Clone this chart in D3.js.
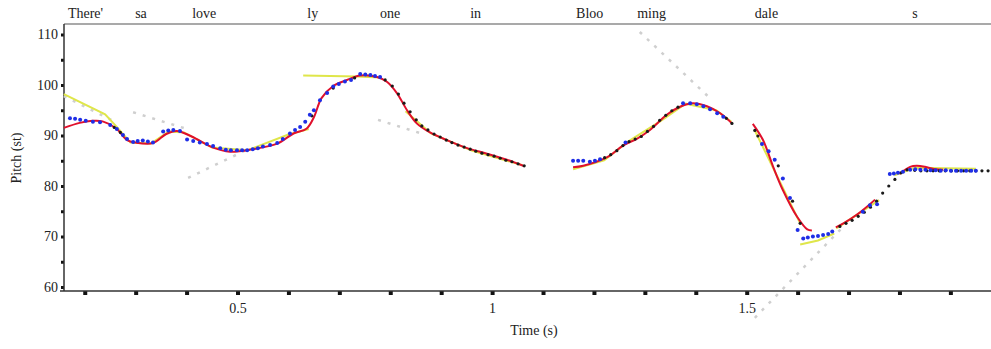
<!DOCTYPE html>
<html>
<head>
<meta charset="utf-8">
<script src="https://cdn.jsdelivr.net/npm/d3@7"></script>
<style>
  body { margin: 0; background: #fff; }
  svg text { font-family: "Liberation Serif", "DejaVu Serif", serif; fill: #222; }
</style>
</head>
<body>
<svg id="chart" width="991" height="349"></svg>
<script>
// words of the utterance, placed at their start time (s)
var words = ["There'", "sa", "love", "ly", "one", "in", "Bloo", "ming", "dale", "s"];
var wordStarts = [0.167, 0.299, 0.411, 0.637, 0.780, 0.957, 1.165, 1.285, 1.516, 1.825];

var xTicks = [0.2, 0.3, 0.4, 0.5, 0.6, 0.7, 0.8, 0.9, 1.0, 1.1, 1.2, 1.3, 1.4, 1.5, 1.6, 1.7, 1.8, 1.9];
var xLabels = [0.5, 1, 1.5];
var yTicks = [60, 65, 70, 75, 80, 85, 90, 95, 100, 105, 110];

// measured pitch (blue)
var bluePitch = [
  [0.171, 93.4], [0.181, 93.3], [0.191, 93.1], [0.202, 92.9], [0.216, 92.7], [0.230, 92.6],
  [0.250, 92.1], [0.263, 91.3], [0.275, 90.1], [0.283, 89.3], [0.295, 88.7], [0.304, 88.9],
  [0.314, 89.0], [0.324, 88.8], [0.334, 88.6], [0.354, 90.8], [0.364, 91.0], [0.374, 91.1],
  [0.387, 90.9], [0.401, 89.2], [0.413, 88.9], [0.426, 88.6], [0.440, 88.3], [0.452, 87.9],
  [0.466, 87.5], [0.477, 87.2], [0.487, 87.1], [0.499, 87.1], [0.509, 87.1], [0.519, 87.1],
  [0.530, 87.3], [0.540, 87.5], [0.550, 87.8], [0.564, 88.1], [0.578, 88.5], [0.589, 89.3],
  [0.603, 90.4], [0.613, 91.1], [0.623, 91.7], [0.633, 92.7], [0.642, 94.1], [0.650, 95.0],
  [0.662, 97.0], [0.676, 98.4], [0.688, 99.7], [0.699, 100.2], [0.711, 100.7], [0.723, 101.0],
  [0.741, 102.2], [0.751, 102.1], [0.761, 102.0], [0.770, 101.8], [0.780, 101.6],
  [1.159, 85.0], [1.169, 85.0], [1.179, 85.0], [1.192, 84.8], [1.202, 85.0], [1.212, 85.3],
  [1.262, 88.6], [1.375, 96.4], [1.389, 96.4], [1.402, 96.2], [1.415, 95.8], [1.428, 95.2],
  [1.442, 94.4], [1.454, 93.7],
  [1.530, 88.3], [1.543, 86.9], [1.555, 85.2], [1.571, 81.5], [1.585, 77.6], [1.600, 71.3],
  [1.611, 69.6], [1.620, 69.8], [1.630, 70.0], [1.640, 70.1], [1.650, 70.3], [1.660, 70.5],
  [1.668, 71.0], [1.728, 74.9], [1.742, 76.2], [1.756, 76.4], [1.781, 82.4], [1.789, 82.5],
  [1.797, 82.6], [1.807, 82.8], [1.821, 83.2], [1.831, 83.3], [1.841, 83.2], [1.851, 83.2],
  [1.861, 83.1], [1.871, 83.1], [1.881, 83.0], [1.891, 83.1], [1.901, 83.0], [1.911, 83.0],
  [1.921, 83.0], [1.931, 83.0], [1.941, 83.0], [1.950, 83.0]
];

// smoothed pitch (black)
var blackPitch = [
  [0.258, 91.6], [0.270, 90.6], [0.646, 93.9], [0.688, 99.4], [0.730, 101.4],
  [0.790, 101.0], [0.804, 99.8], [0.816, 98.2], [0.827, 96.4], [0.839, 94.7], [0.851, 93.1],
  [0.862, 91.9], [0.874, 91.1], [0.886, 90.3], [0.898, 89.7], [0.910, 89.1], [0.921, 88.6],
  [0.933, 88.1], [0.945, 87.7], [0.957, 87.3], [0.968, 86.9], [0.980, 86.5], [0.992, 86.2],
  [1.004, 85.9], [1.016, 85.5], [1.027, 85.1], [1.039, 84.8], [1.051, 84.4], [1.063, 84.0],
  [1.221, 85.6], [1.233, 86.2], [1.245, 87.0], [1.257, 88.0], [1.269, 88.8], [1.281, 89.3],
  [1.293, 89.8], [1.305, 90.8], [1.317, 91.8], [1.329, 93.0], [1.341, 94.0], [1.353, 94.9],
  [1.365, 95.6], [1.460, 93.4], [1.471, 92.4],
  [1.516, 91.0], [1.522, 89.9], [1.562, 84.0], [1.590, 77.0], [1.605, 72.6],
  [1.683, 72.0], [1.695, 72.6], [1.707, 73.2], [1.719, 74.0], [1.731, 74.8], [1.743, 75.8],
  [1.755, 77.0], [1.767, 78.6], [1.779, 80.0], [1.791, 81.3], [1.803, 82.6], [1.815, 83.2],
  [1.830, 83.1], [1.842, 83.0], [1.854, 83.0], [1.866, 83.0], [1.878, 83.0], [1.890, 83.0],
  [1.902, 83.0], [1.914, 83.0], [1.926, 83.0], [1.938, 83.0], [1.950, 83.0], [1.962, 83.0],
  [1.974, 83.0]
];

// smooth fit (red), one array per voiced stretch
var redFit = [
  [[0.159, 91.5], [0.190, 92.5], [0.215, 92.9], [0.235, 92.8], [0.262, 91.4], [0.283, 89.1],
   [0.300, 88.6], [0.334, 88.5], [0.360, 90.3], [0.381, 90.9], [0.410, 89.8], [0.452, 87.6],
   [0.485, 86.8], [0.530, 87.3], [0.578, 88.4], [0.610, 90.4], [0.636, 91.4], [0.650, 93.6],
   [0.665, 97.4], [0.688, 99.8], [0.715, 101.0], [0.741, 101.9], [0.774, 101.6], [0.794, 100.6],
   [0.813, 98.4], [0.833, 95.0], [0.852, 92.4], [0.878, 90.6], [0.911, 89.1], [0.951, 87.5],
   [0.990, 86.4], [1.029, 85.2], [1.061, 84.0]],
  [[1.159, 83.7], [1.179, 84.0], [1.226, 85.7], [1.257, 88.0], [1.285, 89.4], [1.310, 91.1],
   [1.343, 94.1], [1.369, 95.7], [1.394, 96.4], [1.422, 95.8], [1.448, 94.4], [1.471, 92.4]],
  [[1.512, 92.3], [1.532, 89.1], [1.552, 83.8], [1.571, 79.2], [1.599, 73.9], [1.619, 71.4],
   [1.628, 71.2]],
  [[1.675, 71.8], [1.690, 72.6], [1.716, 74.3], [1.742, 76.4], [1.752, 77.3]],
  [[1.800, 82.4], [1.821, 83.8], [1.834, 84.0], [1.850, 83.8], [1.870, 83.3], [1.886, 83.2]]
];

// straight-line stylisation (yellow)
var yellowFit = [
  [[0.159, 98.2], [0.240, 94.2], [0.262, 91.8], [0.290, 88.6], [0.330, 88.4], [0.365, 90.8],
   [0.395, 90.6], [0.450, 87.6], [0.520, 87.1], [0.600, 90.2], [0.640, 91.3]],
  [[0.629, 101.9], [0.735, 101.7], [0.780, 101.5]],
  [[0.830, 94.8], [0.880, 90.4], [0.960, 87.0], [1.060, 84.1]],
  [[1.159, 83.3], [1.220, 85.1], [1.270, 89.0], [1.330, 92.8], [1.380, 96.3], [1.440, 95.0],
   [1.470, 92.7]],
  [[1.515, 91.2], [1.605, 72.6]],
  [[1.605, 68.4], [1.640, 69.2], [1.672, 70.6]],
  [[1.676, 71.6], [1.760, 77.2]],
  [[1.790, 82.1], [1.830, 83.6], [1.950, 83.4]]
];

// extrapolated trend lines (grey)
var greyTrends = [
  [[0.159, 97.8], [0.262, 92.6]],
  [[0.295, 94.6], [0.397, 91.4]],
  [[0.403, 81.6], [0.525, 87.5]],
  [[0.776, 93.1], [0.858, 90.5]],
  [[1.290, 110.5], [1.432, 97.0]],
  [[1.516, 53.9], [1.693, 72.3]]
];

var svg = d3.select("#chart");

var x = d3.scaleLinear().domain([0.5, 1.5]).range([237.5, 746.7]);
var y = d3.scaleLinear().domain([60, 110]).range([287, 34.5]);

var AXIS_X = 64, AXIS_Y = 291, TOP_Y = 24, RIGHT = 991;

// frame lines
svg.append("line")
  .attr("x1", AXIS_X).attr("x2", RIGHT).attr("y1", TOP_Y).attr("y2", TOP_Y)
  .attr("stroke", "#555").attr("stroke-width", 1.2);

// y axis
var yAxis = d3.axisLeft(y)
  .tickValues(yTicks)
  .tickSize(3)
  .tickPadding(3)
  .tickFormat(function(d) { return d % 10 === 0 ? d : ""; });

var gy = svg.append("g")
  .attr("transform", "translate(" + AXIS_X + ",0)")
  .call(yAxis);
gy.select(".domain").remove();
gy.selectAll(".tick line").attr("stroke", "#111").attr("stroke-width", 3);
gy.selectAll(".tick text").attr("font-size", 14).attr("font-family", "Liberation Serif").attr("fill", "#222");
svg.append("line")
  .attr("x1", AXIS_X).attr("x2", AXIS_X).attr("y1", TOP_Y).attr("y2", AXIS_Y)
  .attr("stroke", "#333").attr("stroke-width", 1.5);

// x axis
var xAxis = d3.axisBottom(x)
  .tickValues(xTicks)
  .tickSize(4)
  .tickPadding(8)
  .tickFormat(function(d) {
    var hit = xLabels.filter(function(v) { return Math.abs(v - d) < 1e-9; });
    return hit.length ? d3.format("")(hit[0]) : "";
  });

var gx = svg.append("g")
  .attr("transform", "translate(0," + AXIS_Y + ")")
  .call(xAxis);
gx.select(".domain").remove();
gx.selectAll(".tick line").attr("stroke", "#111").attr("stroke-width", 4);
gx.selectAll(".tick text").attr("font-size", 14).attr("font-family", "Liberation Serif").attr("fill", "#222");
svg.append("line")
  .attr("x1", 60).attr("x2", RIGHT).attr("y1", AXIS_Y).attr("y2", AXIS_Y)
  .attr("stroke", "#333").attr("stroke-width", 1.5);

// axis titles
svg.append("text")
  .attr("x", 534).attr("y", 335)
  .attr("text-anchor", "middle")
  .attr("font-size", 14)
  .text("Time (s)");

svg.append("text")
  .attr("transform", "translate(21,158) rotate(-90)")
  .attr("text-anchor", "middle")
  .attr("font-size", 14)
  .text("Pitch (st)");

// words along the top
svg.append("g").selectAll("text")
  .data(words)
  .join("text")
  .attr("x", function(d, i) { return x(wordStarts[i]); })
  .attr("y", 18)
  .attr("font-size", 14)
  .text(function(d) { return d; });

var line = d3.line()
  .x(function(d) { return x(d[0]); })
  .y(function(d) { return y(d[1]); });

var smooth = d3.line()
  .curve(d3.curveCatmullRom)
  .x(function(d) { return x(d[0]); })
  .y(function(d) { return y(d[1]); });

// grey trend lines
svg.append("g").selectAll("path")
  .data(greyTrends)
  .join("path")
  .attr("d", line)
  .attr("fill", "none")
  .attr("stroke", "#cfcfcf")
  .attr("stroke-width", 2.5)
  .attr("stroke-dasharray", "3,7");

// yellow stylisation
svg.append("g").selectAll("path")
  .data(yellowFit)
  .join("path")
  .attr("d", line)
  .attr("fill", "none")
  .attr("stroke", "#dfe64a")
  .attr("stroke-width", 2);

// red fit
svg.append("g").selectAll("path")
  .data(redFit)
  .join("path")
  .attr("d", smooth)
  .attr("fill", "none")
  .attr("stroke", "#e0102c")
  .attr("stroke-width", 2);

// black dots
svg.append("g").selectAll("circle")
  .data(blackPitch)
  .join("circle")
  .attr("cx", function(d) { return x(d[0]); })
  .attr("cy", function(d) { return y(d[1]); })
  .attr("r", 1.6)
  .attr("fill", "#1a1a1a");

// blue dots
svg.append("g").selectAll("circle")
  .data(bluePitch)
  .join("circle")
  .attr("cx", function(d) { return x(d[0]); })
  .attr("cy", function(d) { return y(d[1]); })
  .attr("r", 2)
  .attr("fill", "#1f2ee6");
</script>
</body>
</html>
